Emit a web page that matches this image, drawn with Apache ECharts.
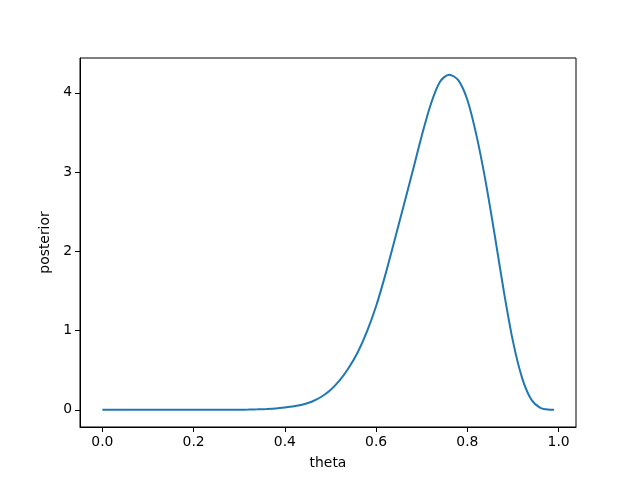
<!DOCTYPE html>
<html>
<head>
<meta charset="utf-8">
<script src="https://cdn.jsdelivr.net/npm/echarts@6/dist/echarts.min.js"></script>
<style>
  html, body { margin: 0; padding: 0; background: #fff; }
  #chart { width: 640px; height: 480px; }
</style>
</head>
<body>
<div id="chart"></div>
<script>
// values
var theta = [0.00, 0.04, 0.08, 0.12, 0.16, 0.20, 0.24, 0.28, 0.30, 0.32,
  0.34, 0.36, 0.38, 0.40, 0.42, 0.44, 0.46, 0.48, 0.50, 0.52,
  0.54, 0.56, 0.58, 0.60, 0.62, 0.64, 0.66, 0.68, 0.70, 0.72,
  0.74, 0.76, 0.78, 0.80, 0.82, 0.84, 0.86, 0.88, 0.90, 0.92,
  0.94, 0.96, 0.98, 0.99]
var posterior = [0, 0, 0, 0, 0, 0, 0, 0.0005, 0.001, 0.003,
  0.006, 0.011, 0.018, 0.03, 0.045, 0.067, 0.105, 0.165, 0.25, 0.37,
  0.53, 0.73, 0.99, 1.31, 1.70, 2.13, 2.57, 3.01, 3.46, 3.86,
  4.14, 4.23, 4.16, 3.91, 3.46, 2.88, 2.20, 1.49, 0.86, 0.40,
  0.13, 0.025, 0.002, 0]
var xTicks = [0, 0.2, 0.4, 0.6, 0.8, 1.0]
var yTicks = [0, 1, 2, 3, 4]

var chart = echarts.init(document.getElementById('chart'))
var font = 'DejaVu Sans'
var option = {
  animation: false,
  backgroundColor: '#fff',
  grid: {
    left: 80,
    right: 64,
    top: 58,
    bottom: 53,
    show: true,
    borderColor: '#000',
    borderWidth: 1,
    containLabel: false
  },
  xAxis: {
    type: 'value',
    min: -0.049,
    max: 1.038,
    name: 'theta',
    nameLocation: 'middle',
    nameGap: 29,
    nameTextStyle: { color: '#000', fontSize: 13.9, fontFamily: font },
    axisLine: { show: true, onZero: false, lineStyle: { color: '#000', width: 1 } },
    splitLine: { show: false },
    axisTick: {
      show: true,
      inside: false,
      length: 5,
      customValues: xTicks,
      lineStyle: { color: '#000' }
    },
    axisLabel: {
      customValues: xTicks,
      color: '#000',
      fontSize: 13.9,
      fontFamily: font,
      margin: 8,
      formatter: function (v) { return v.toFixed(1) }
    }
  },
  yAxis: {
    type: 'value',
    min: -0.217,
    max: 4.44,
    name: 'posterior',
    nameLocation: 'middle',
    nameGap: 19,
    nameTextStyle: { color: '#000', fontSize: 13.9, fontFamily: font },
    axisLine: { show: true, onZero: false, lineStyle: { color: '#000', width: 1 } },
    splitLine: { show: false },
    axisTick: {
      show: true,
      inside: false,
      length: 5,
      customValues: yTicks,
      lineStyle: { color: '#000' }
    },
    axisLabel: {
      customValues: yTicks,
      color: '#000',
      fontSize: 13.9,
      fontFamily: font,
      margin: 8,
      formatter: function (v) { return String(v) }
    }
  },
  series: [
    {
      type: 'line',
      data: theta.map(function (t, i) { return [t, posterior[i]] }),
      smooth: 0.3,
      showSymbol: false,
      lineStyle: { color: '#1f77b4', width: 2 }
    }
  ]
}
chart.setOption(option)
</script>
</body>
</html>
